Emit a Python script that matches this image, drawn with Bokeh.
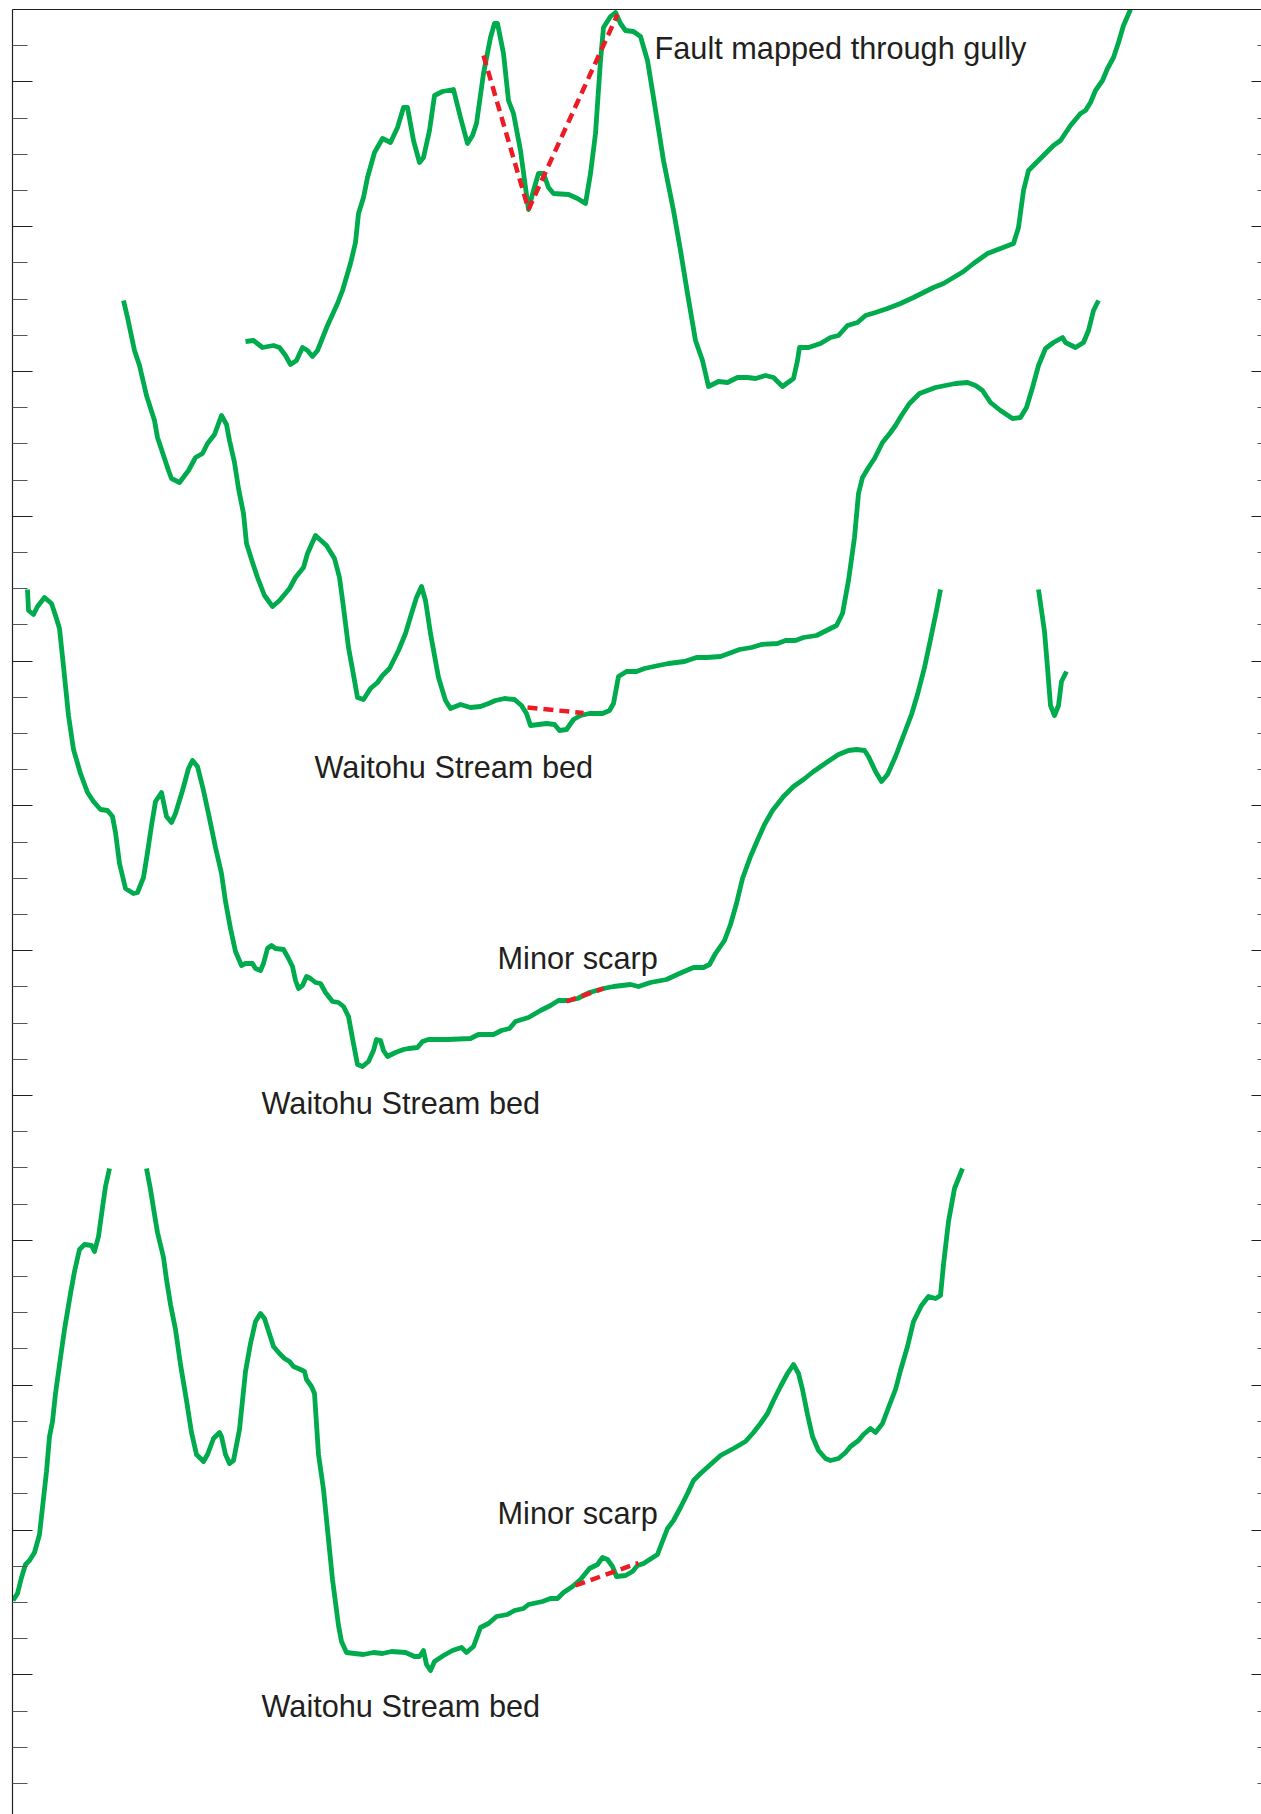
from bokeh.plotting import figure
from bokeh.models import Range1d, LinearAxis, FixedTicker, CustomJSTickFormatter
from bokeh.core.properties import value
from bokeh.embed import file_html
from bokeh.resources import INLINE

# ---- profile data (distance along section, vertical position on sheet; y grows downward) ----
p1_x = [245, 253, 262, 273, 279, 285, 290, 296, 302, 307, 312, 317, 327, 337, 342, 350, 355, 358, 363, 367,
        374, 382, 390, 397, 403, 407, 413, 419, 423, 429, 434, 442, 453, 460, 467, 472, 476, 483, 490, 494,
        497, 503, 508, 513, 520, 525, 528, 533, 538, 543, 548, 553, 568, 577, 585, 590, 595, 600, 603, 610,
        615, 620, 625, 633, 640, 647, 653, 663, 673, 680, 687, 695, 702, 708, 718, 727, 737, 747, 755, 765,
        773, 782, 793, 797, 799, 808, 820, 830, 838, 847, 857, 865, 875, 887, 900, 913, 923, 933, 943, 953,
        963, 973, 987, 1000, 1013, 1018, 1023, 1028, 1040, 1053, 1060, 1070, 1080, 1085, 1090, 1095, 1102,
        1107, 1113, 1118, 1123, 1130]
p1_y = [341, 340, 347, 345, 347, 355, 364, 360, 347, 350, 356, 350, 325, 303, 290, 263, 242, 213, 197, 177,
        152, 138, 142, 127, 107, 107, 140, 162, 157, 130, 95, 91, 89, 117, 143, 135, 123, 73, 37, 23,
        23, 53, 100, 113, 150, 187, 209, 190, 173, 173, 187, 193, 194, 198, 203, 173, 133, 60, 27, 16,
        12, 23, 30, 31, 36, 60, 97, 160, 210, 250, 293, 340, 360, 386, 381, 382, 377, 377, 378, 375,
        377, 386, 378, 360, 347, 347, 343, 337, 335, 325, 322, 315, 312, 308, 303, 297, 292, 287, 283, 277,
        271, 263, 253, 248, 243, 227, 190, 170, 158, 145, 140, 125, 113, 110, 102, 90, 80,
        68, 57, 42, 25, 9]

p2_x = [123, 127, 134, 139, 146, 154, 157, 163, 168, 171, 179, 188, 195, 202, 207, 214, 221, 226, 229, 234,
        238, 243, 246, 252, 257, 264, 272, 279, 289, 295, 303, 307, 315, 326, 334, 339, 343, 348, 354, 357,
        363, 370, 377, 382, 389, 398, 405, 411, 416, 421, 425, 430, 438, 445, 450, 460, 470, 480, 488, 495,
        504, 514, 521, 526, 530, 538, 546, 554, 559, 566, 573, 580, 589, 602, 609, 613, 618, 626, 636, 644,
        658, 668, 684, 696, 706, 720, 731, 739, 751, 761, 777, 785, 795, 803, 816, 828, 836, 842, 848, 854,
        858, 862, 868, 874, 882, 890, 895, 901, 909, 919, 935, 955, 967, 975, 982, 990, 1000, 1012, 1020,
        1026, 1032, 1038, 1045, 1053, 1062, 1065, 1075, 1083, 1088, 1093, 1098]
p2_y = [300, 317, 350, 365, 395, 420, 437, 455, 470, 478, 482, 470, 457, 453, 443, 434, 415, 424, 440, 462,
        488, 513, 543, 562, 577, 595, 606, 600, 588, 577, 567, 553, 535, 545, 558, 577, 607, 647, 680, 697,
        699, 688, 682, 675, 668, 650, 633, 613, 597, 586, 600, 633, 677, 700, 708, 704, 707, 706, 703, 700,
        698, 699, 705, 713, 725, 724, 723, 724, 730, 729, 719, 715, 713, 713, 710, 703, 676, 671, 671, 668,
        665, 663, 661, 657, 657, 656, 652, 649, 647, 644, 643, 640, 640, 637, 635, 629, 625, 613, 580, 537,
        493, 477, 467, 458, 442, 432, 425, 415, 403, 393, 387, 383, 382, 385, 390, 402, 410, 418, 417,
        407, 387, 365, 348, 342, 337, 342, 347, 342, 330, 310, 300]

p3_x = [27, 28, 33, 37, 44, 51, 55, 59, 63, 68, 73, 80, 87, 93, 100, 107, 112, 115, 119, 125, 133, 137, 143,
        147, 151, 155, 161, 166, 171, 175, 182, 188, 192, 197, 203, 209, 215, 221, 225, 230, 235, 241, 245,
        252, 255, 260, 263, 267, 271, 275, 283, 287, 292, 295, 298, 302, 306, 310, 315, 320, 325, 332, 338,
        343, 348, 352, 357, 362, 368, 373, 376, 380, 383, 387, 395, 403, 408, 417, 422, 428, 447, 470, 478,
        493, 501, 509, 515, 528, 540, 550, 558, 568, 577, 589, 603, 613, 630, 638, 650, 666, 679, 693, 703,
        709, 715, 724, 730, 736, 742, 750, 756, 764, 772, 783, 793, 803, 813, 826, 838, 848, 856, 864, 868,
        875, 881, 887, 895, 903, 911, 917, 924, 930, 936, 940]
p3_y = [589, 610, 614, 606, 597, 603, 615, 628, 666, 715, 749, 773, 792, 801, 809, 810, 816, 832, 863, 888,
        893, 892, 877, 852, 825, 801, 792, 816, 822, 813, 790, 768, 760, 766, 790, 818, 847, 873, 901, 928,
        951, 965, 963, 963, 968, 970, 963, 948, 945, 948, 949, 956, 966, 980, 988, 985, 976, 978, 982, 983,
        992, 1001, 1002, 1006, 1016, 1038, 1064, 1066, 1061, 1050, 1039, 1040, 1050, 1056, 1052, 1049, 1048,
        1047, 1041, 1039, 1039, 1038, 1034, 1034, 1030, 1028, 1021, 1017, 1010, 1005, 1000, 1000, 998, 992,
        988, 986, 984, 986, 982, 979, 973, 967, 967, 964, 953, 940, 924, 903, 878, 856, 842, 824, 810, 796,
        786, 779, 771, 762, 754, 750, 749, 750, 756, 771, 781, 774, 756, 735, 714, 694, 667, 639, 610, 589]

p3b_x = [1038, 1044, 1047, 1050, 1054, 1058, 1061, 1066]
p3b_y = [589, 631, 667, 705, 715, 705, 681, 671]

p4a_x = [12.5, 17, 21, 25, 29, 34, 39, 42, 46, 49, 52, 55, 60, 64, 70, 74, 79, 84, 91, 94, 98, 102, 105, 109]
p4a_y = [1600, 1593, 1577, 1564, 1560, 1552, 1534, 1507, 1471, 1436, 1421, 1393, 1357, 1329, 1293, 1271,
         1249, 1244, 1245, 1251, 1236, 1207, 1186, 1168]

p4b_x = [146, 150, 154, 157, 163, 166, 170, 175, 180, 186, 191, 196, 203, 207, 213, 219, 221, 225, 229, 233,
         239, 245, 250, 255, 260, 264, 273, 279, 284, 289, 293, 300, 304, 306, 311, 314, 318, 323, 327, 332,
         338, 341, 346, 354, 363, 373, 382, 391, 405, 414, 419, 423, 426, 430, 434, 443, 452, 461, 466, 473,
         480, 488, 496, 507, 514, 523, 528, 542, 550, 557, 563, 572, 580, 589, 597, 602, 607, 612, 616, 625,
         632, 637, 643, 657, 660, 667, 673, 680, 687, 693, 700, 710, 720, 733, 745, 753, 760, 767, 773, 780,
         787, 793, 798, 802, 807, 812, 818, 825, 830, 838, 845, 850, 858, 863, 870, 875, 882, 888, 895, 900,
         907, 913, 921, 928, 935, 940, 943, 948, 954, 962]
p4b_y = [1168, 1189, 1214, 1232, 1257, 1279, 1304, 1329, 1364, 1400, 1432, 1454, 1461, 1454, 1438, 1432,
         1436, 1454, 1463, 1460, 1429, 1371, 1343, 1321, 1313, 1318, 1346, 1353, 1358, 1361, 1366, 1369, 1371,
         1379, 1386, 1393, 1454, 1489, 1529, 1579, 1625, 1641, 1652, 1653, 1654, 1652, 1653, 1651, 1652, 1656,
         1656, 1650, 1664, 1670, 1661, 1655, 1650, 1647, 1652, 1646, 1627, 1623, 1616, 1614, 1610, 1608, 1604,
         1601, 1598, 1598, 1592, 1586, 1579, 1568, 1564, 1557, 1559, 1566, 1576, 1575, 1571, 1565, 1563, 1554,
         1546, 1528, 1520, 1507, 1493, 1480, 1473, 1464, 1455, 1448, 1441, 1432, 1423, 1413, 1400, 1386, 1373,
         1364, 1373, 1389, 1414, 1436, 1450, 1458, 1460, 1458, 1452, 1446, 1440, 1434, 1428, 1432, 1423, 1407,
         1389, 1370, 1346, 1321, 1305, 1296, 1298, 1295, 1264, 1221, 1188, 1168]

# ---- interpreted fault / scarp traces (red dashed) ----
f1_x = [483, 528, 617]
f1_y = [55, 209, 14]
f2_x = [527, 583]
f2_y = [707, 712.5]
f3_x = [566, 603]
f3_y = [1001, 988]
f4_x = [575, 638]
f4_y = [1585, 1562.5]

# ---- annotations ----
label_x = [654, 314, 497, 261, 497, 261]
label_y = [48, 766.5, 958, 1103, 1512.5, 1706]
label_text = ["Fault mapped through gully", "Waitohu Stream bed", "Minor scarp",
              "Waitohu Stream bed", "Minor scarp", "Waitohu Stream bed"]

GREEN = "#00AB4E"
RED = "#ED1C24"
INK = "#231F20"

p = figure(width=1261, height=1814, x_range=Range1d(12, 1261), y_range=Range1d(1814, 9),
           output_backend="svg", toolbar_location=None,
           x_axis_location=None, y_axis_location=None,
           min_border_left=12, min_border_right=0, min_border_top=9, min_border_bottom=0)
p.grid.visible = False
p.outline_line_color = None
p.background_fill_color = "white"
p.border_fill_color = "white"

# vertical scale ticks
step = 36.205
first_major = 81.3
majors = [first_major + 4 * step * j for j in range(12)]
minors = [first_major + step * k for k in range(-1, 48) if k % 4 != 0]
blank = CustomJSTickFormatter(code="return ''")

left = LinearAxis(ticker=FixedTicker(ticks=majors, minor_ticks=minors), formatter=blank,
                  major_tick_in=20, major_tick_out=0, minor_tick_in=15, minor_tick_out=0,
                  major_label_standoff=0, major_label_text_font_size="1px",
                  axis_line_color=INK, axis_line_width=1.2,
                  major_tick_line_color=INK, major_tick_line_width=1.2,
                  minor_tick_line_color="#555555", minor_tick_line_width=1.2)
p.add_layout(left, "left")

right = LinearAxis(ticker=FixedTicker(ticks=majors, minor_ticks=minors), formatter=blank,
                   major_tick_in=10, major_tick_out=0, minor_tick_in=4, minor_tick_out=0,
                   major_label_standoff=0, major_label_text_font_size="1px",
                   axis_line_color=None,
                   major_tick_line_color=INK, major_tick_line_width=1.2,
                   minor_tick_line_color="#555555", minor_tick_line_width=1.2)
p.add_layout(right, "right")

top = LinearAxis(ticker=FixedTicker(ticks=[]), formatter=blank,
                 major_tick_in=0, major_tick_out=0, minor_tick_in=0, minor_tick_out=0,
                 major_label_standoff=0, axis_line_color=INK, axis_line_width=1.2)
p.add_layout(top, "above")

for xs, ys in [(p1_x, p1_y), (p2_x, p2_y), (p3_x, p3_y), (p3b_x, p3b_y), (p4a_x, p4a_y), (p4b_x, p4b_y)]:
    p.line(xs, ys, line_color=GREEN, line_width=4.8, line_join="round", line_cap="butt")

for xs, ys in [(f1_x, f1_y), (f2_x, f2_y), (f3_x, f3_y), (f4_x, f4_y)]:
    p.line(xs, ys, line_color=RED, line_width=4.5, line_dash="10 6")

p.text(x=label_x, y=label_y, text=label_text, text_font=value("Liberation Sans"),
       text_font_size="30.7px", text_color=INK, text_align="left", text_baseline="alphabetic")

open("out.html", "w").write(file_html(p, INLINE))
